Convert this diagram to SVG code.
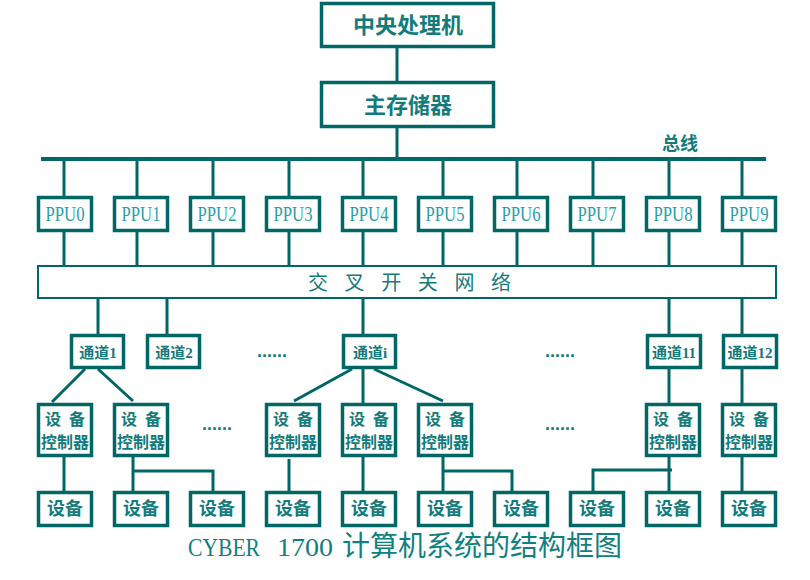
<svg xmlns="http://www.w3.org/2000/svg" width="810" height="580" viewBox="0 0 810 580">
  <style>
    .box { fill: #ffffff; stroke: #006666; stroke-width: 3.5; }
    .xbar { fill: #ffffff; stroke: #006666; stroke-width: 2; }
    .wire { stroke: #006666; stroke-width: 3; fill: none; }
    .bus { stroke: #006666; stroke-width: 4; fill: none; }
    .cn { font-family: "Liberation Serif", "Noto Sans CJK SC", sans-serif; font-weight: bold; fill: #137b7b; text-anchor: middle; dominant-baseline: central; }
    .ppu { font-family: "Liberation Serif", serif; font-size: 20px; fill: #2a9ea4; text-anchor: middle; dominant-baseline: central; }
    .dots { font-family: "Liberation Sans", sans-serif; font-weight: bold; font-size: 18px; fill: #137b7b; }
    .cap { font-family: "Liberation Serif", "Noto Sans CJK SC", serif; fill: #118080; }
  </style>
  <rect width="810" height="580" fill="#ffffff"/>

  <!-- connectors -->
  <g id="connectors">
    <path class="wire" d="M397 47 V82 M397 127 V159"/>
    <path class="bus" d="M41 159 H766"/>
    <!-- bus to PPUs, PPUs to crossbar -->
    <path class="wire" d="M64 159 V197 M64 231 V265 M137 159 V197 M137 231 V265 M213 159 V197 M213 231 V265 M289 159 V197 M289 231 V265 M363 159 V197 M363 231 V265 M443 159 V197 M443 231 V265 M517 159 V197 M517 231 V265 M593 159 V197 M593 231 V265 M669 159 V197 M669 231 V265 M742 159 V197 M742 231 V265"/>
    <!-- crossbar to channels -->
    <path class="wire" d="M98 299 V335 M167 299 V335 M363 299 V335 M669 299 V335 M742 299 V335"/>
    <!-- channels to device controllers -->
    <path class="wire" d="M85 369 L52 402 M98 369 L133 401 M352 369 L294 401 M363 369 V404 M374 369 L443 401 M669 369 V404 M742 369 V404"/>
    <!-- device controllers to devices -->
    <path class="wire" d="M64 457 V492 M133 456 V492 M133 471 H213 V492 M289 459 V492 M363 456 V492 M443 456 V492 M443 471 H512 V492 M669 456 V492 M593 492 V470 H672 M742 456 V492"/>
  </g>

  <g id="cpu">
    <rect class="box" x="321.5" y="3.5" width="172" height="43"/>
    <text class="cn" x="408" y="25" font-size="22">中央处理机</text>
  </g>
  <g id="memory">
    <rect class="box" x="321.5" y="82.5" width="172" height="44"/>
    <text class="cn" x="408" y="105" font-size="22">主存储器</text>
  </g>
  <g id="bus-label">
    <text class="cn" x="680" y="144" font-size="18">总线</text>
  </g>

  <g id="ppu0"><rect class="box" x="38.5" y="197.5" width="53" height="33"/><text class="ppu" x="65" y="214" textLength="39" lengthAdjust="spacingAndGlyphs">PPU0</text></g>
  <g id="ppu1"><rect class="box" x="114.5" y="197.5" width="53" height="33"/><text class="ppu" x="141" y="214" textLength="39" lengthAdjust="spacingAndGlyphs">PPU1</text></g>
  <g id="ppu2"><rect class="box" x="190.5" y="197.5" width="53" height="33"/><text class="ppu" x="217" y="214" textLength="39" lengthAdjust="spacingAndGlyphs">PPU2</text></g>
  <g id="ppu3"><rect class="box" x="266.5" y="197.5" width="53" height="33"/><text class="ppu" x="293" y="214" textLength="39" lengthAdjust="spacingAndGlyphs">PPU3</text></g>
  <g id="ppu4"><rect class="box" x="342.5" y="197.5" width="53" height="33"/><text class="ppu" x="369" y="214" textLength="39" lengthAdjust="spacingAndGlyphs">PPU4</text></g>
  <g id="ppu5"><rect class="box" x="418.5" y="197.5" width="53" height="33"/><text class="ppu" x="445" y="214" textLength="39" lengthAdjust="spacingAndGlyphs">PPU5</text></g>
  <g id="ppu6"><rect class="box" x="494.5" y="197.5" width="53" height="33"/><text class="ppu" x="521" y="214" textLength="39" lengthAdjust="spacingAndGlyphs">PPU6</text></g>
  <g id="ppu7"><rect class="box" x="570.5" y="197.5" width="53" height="33"/><text class="ppu" x="597" y="214" textLength="39" lengthAdjust="spacingAndGlyphs">PPU7</text></g>
  <g id="ppu8"><rect class="box" x="646.5" y="197.5" width="53" height="33"/><text class="ppu" x="673" y="214" textLength="39" lengthAdjust="spacingAndGlyphs">PPU8</text></g>
  <g id="ppu9"><rect class="box" x="722.5" y="197.5" width="53" height="33"/><text class="ppu" x="749" y="214" textLength="39" lengthAdjust="spacingAndGlyphs">PPU9</text></g>

  <g id="crossbar">
    <rect class="xbar" x="38" y="266" width="738" height="32"/>
    <text class="cn" x="308" y="283" font-size="20" style="text-anchor:start;font-weight:normal" letter-spacing="5.8" xml:space="preserve">交 叉 开 关 网 络</text>
  </g>

  <g id="channel1"><rect class="box" x="71.5" y="335.5" width="52" height="32"/><text class="cn" x="98" y="353" font-size="15">通道1</text></g>
  <g id="channel2"><rect class="box" x="147.5" y="335.5" width="52" height="32"/><text class="cn" x="174" y="353" font-size="15">通道2</text></g>
  <g id="channel-i"><rect class="box" x="343.5" y="335.5" width="52" height="32"/><text class="cn" x="370" y="353" font-size="15">通道i</text></g>
  <g id="channel11"><rect class="box" x="647.5" y="335.5" width="53" height="32"/><text class="cn" x="674" y="353" font-size="15">通道11</text></g>
  <g id="channel12"><rect class="box" x="723.5" y="335.5" width="53" height="32"/><text class="cn" x="750" y="353" font-size="15">通道12</text></g>

  <g id="ellipses">
    <text class="dots" x="257" y="357">......</text>
    <text class="dots" x="545" y="357">......</text>
    <text class="dots" x="202" y="430">......</text>
    <text class="dots" x="545" y="430">......</text>
  </g>

  <g id="ctrl1"><rect class="box" x="38.5" y="404.5" width="53" height="51"/><text class="cn" x="65" y="419" font-size="16" word-spacing="4" xml:space="preserve">设 备</text><text class="cn" x="65" y="442" font-size="16">控制器</text></g>
  <g id="ctrl2"><rect class="box" x="114.5" y="404.5" width="53" height="51"/><text class="cn" x="141" y="419" font-size="16" word-spacing="4" xml:space="preserve">设 备</text><text class="cn" x="141" y="442" font-size="16">控制器</text></g>
  <g id="ctrl3"><rect class="box" x="266.5" y="404.5" width="53" height="51"/><text class="cn" x="293" y="419" font-size="16" word-spacing="4" xml:space="preserve">设 备</text><text class="cn" x="293" y="442" font-size="16">控制器</text></g>
  <g id="ctrl4"><rect class="box" x="342.5" y="404.5" width="53" height="51"/><text class="cn" x="369" y="419" font-size="16" word-spacing="4" xml:space="preserve">设 备</text><text class="cn" x="369" y="442" font-size="16">控制器</text></g>
  <g id="ctrl5"><rect class="box" x="418.5" y="404.5" width="53" height="51"/><text class="cn" x="445" y="419" font-size="16" word-spacing="4" xml:space="preserve">设 备</text><text class="cn" x="445" y="442" font-size="16">控制器</text></g>
  <g id="ctrl6"><rect class="box" x="646.5" y="404.5" width="53" height="51"/><text class="cn" x="673" y="419" font-size="16" word-spacing="4" xml:space="preserve">设 备</text><text class="cn" x="673" y="442" font-size="16">控制器</text></g>
  <g id="ctrl7"><rect class="box" x="722.5" y="404.5" width="53" height="51"/><text class="cn" x="749" y="419" font-size="16" word-spacing="4" xml:space="preserve">设 备</text><text class="cn" x="749" y="442" font-size="16">控制器</text></g>

  <g id="dev0"><rect class="box" x="38.5" y="492.5" width="53" height="33"/><text class="cn" x="65" y="509" font-size="18">设备</text></g>
  <g id="dev1"><rect class="box" x="114.5" y="492.5" width="53" height="33"/><text class="cn" x="141" y="509" font-size="18">设备</text></g>
  <g id="dev2"><rect class="box" x="190.5" y="492.5" width="53" height="33"/><text class="cn" x="217" y="509" font-size="18">设备</text></g>
  <g id="dev3"><rect class="box" x="266.5" y="492.5" width="53" height="33"/><text class="cn" x="293" y="509" font-size="18">设备</text></g>
  <g id="dev4"><rect class="box" x="342.5" y="492.5" width="53" height="33"/><text class="cn" x="369" y="509" font-size="18">设备</text></g>
  <g id="dev5"><rect class="box" x="418.5" y="492.5" width="53" height="33"/><text class="cn" x="445" y="509" font-size="18">设备</text></g>
  <g id="dev6"><rect class="box" x="494.5" y="492.5" width="53" height="33"/><text class="cn" x="521" y="509" font-size="18">设备</text></g>
  <g id="dev7"><rect class="box" x="570.5" y="492.5" width="53" height="33"/><text class="cn" x="597" y="509" font-size="18">设备</text></g>
  <g id="dev8"><rect class="box" x="646.5" y="492.5" width="53" height="33"/><text class="cn" x="673" y="509" font-size="18">设备</text></g>
  <g id="dev9"><rect class="box" x="722.5" y="492.5" width="53" height="33"/><text class="cn" x="749" y="509" font-size="18">设备</text></g>

  <g id="caption">
    <text class="cap" y="556"><tspan x="188" font-size="26" textLength="72" lengthAdjust="spacingAndGlyphs">CYBER</tspan><tspan x="277" font-size="26" textLength="56" lengthAdjust="spacingAndGlyphs">1700</tspan><tspan x="342" font-size="28">计算机系统的结构框图</tspan></text>
  </g>
</svg>
